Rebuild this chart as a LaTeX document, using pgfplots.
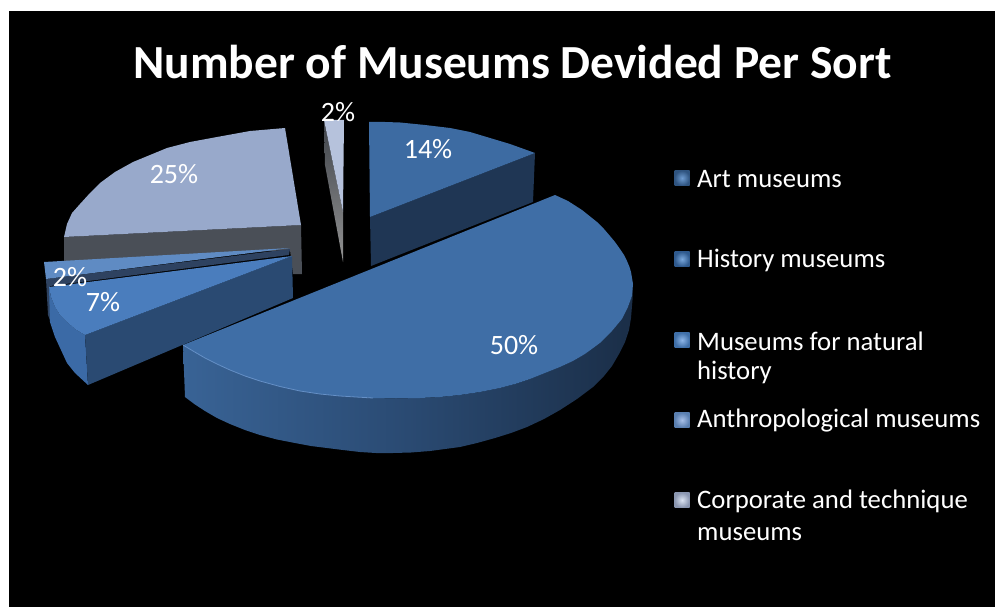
\documentclass[border=0pt]{standalone}
\usepackage{pgfplots}
\usepackage{fontspec}
\setmainfont{Carlito}
\pgfplotsset{compat=1.18}
\definecolor{artTop}{HTML}{3D6BA2}
\definecolor{artSide}{HTML}{1F3654}
\definecolor{histTop}{HTML}{3F6EA6}
\definecolor{natTop}{HTML}{4A7DBD}
\definecolor{natSide}{HTML}{2A4A72}
\definecolor{natRim}{HTML}{3B6AA6}
\definecolor{anthTop}{HTML}{5F8BC3}
\definecolor{anthSide}{HTML}{2E4260}
\definecolor{corpTop}{HTML}{98A9CB}
\definecolor{corpSide}{HTML}{4A4F57}
\definecolor{techTop}{HTML}{B6C2DC}
\definecolor{keyA1}{HTML}{6E9BD0}\definecolor{keyA2}{HTML}{2F5480}
\definecolor{keyB1}{HTML}{7AA8DC}\definecolor{keyB2}{HTML}{2F5A8E}
\definecolor{keyC1}{HTML}{8EB6E8}\definecolor{keyC2}{HTML}{3F6FA8}
\definecolor{keyD1}{HTML}{A8C0E8}\definecolor{keyD2}{HTML}{5A7FB0}
\definecolor{keyE1}{HTML}{DCE4F2}\definecolor{keyE2}{HTML}{8A96B0}
\begin{document}
\begin{tikzpicture}
\begin{axis}[
  width=995pt,height=607pt,scale only axis,
  xmin=0,xmax=995,ymin=0,ymax=607,y dir=reverse,
  axis lines=none,clip=false,
  every axis plot/.append style={draw=none},
]
% page and black panel
\addplot[fill=white] coordinates {(0,0)(995,0)(995,607)(0,607)} --cycle;
\addplot[fill=black] coordinates {(9,11)(995,11)(995,607)(9,607)} --cycle;

% 25 % slice
\addplot[fill=corpSide] coordinates {(64,237)(301,225)(302,274)(293,274)(290,250)(64,262)} --cycle;
\addplot[fill=corpTop] coordinates {(301,225)(64,237)(67,224)(72,213)(80,204)(90,193)(100,183)(115,172)(133,162)(150,155)(167,148)(190,142)(217,137)(250,131)(285,128)} --cycle;

% 2 % slice, corporate and technique
\addplot[top color=corpSide!85!black,bottom color=gray!85!white] coordinates {(324,120)(343,212)(343,262)(325,165)} --cycle;
\addplot[fill=techTop] coordinates {(324,120)(344,120)(343,212)} --cycle;

% 14 % slice
\addplot[fill=artSide] coordinates {(370,217)(535,153)(533,202)(371,266)} --cycle;
\addplot[fill=artTop] coordinates {(370,217)(369,122)(385,122)(400,122.5)(425,125)(450,128)(470,132)(490,138)(510,144)(535,153)} --cycle;

% 2 % slice, anthropological
\addplot[fill=anthSide] coordinates {(46,279)(290,249)(289,255)(50,286)(50,320)(48,315)} --cycle;
\addplot[fill=anthTop] coordinates {(44,262)(290,248)(46,279)} --cycle;

% 7 % slice
\addplot[fill=natRim] coordinates {(49,287)(51,297)(55,307)(60,315)(67,322)(75,329)(85,335)(88,385)(75,373)(67,363)(55,337)(50,322)} --cycle;
\addplot[fill=natSide] coordinates {(85,335)(292,256)(293,298)(88,385)} --cycle;
\addplot[fill=natTop] coordinates {(292,256)(49,287)(51,297)(55,307)(60,315)(67,322)(75,329)(85,335)} --cycle;

% 50 % slice
\addplot[left color=histTop!90!black,right color=artSide!85!black,middle color=natSide] coordinates {(633,284)(632,296)(628,307)(622,319)(612,331)(600,343)(585,354)(573,361)(560,367)(545,373)(530,379)(515,384)(500,388)(480,392)(460,395)(440,397)(420,398)(396,398.5)(373,398)(356,397)(340,396)(320,394)(300,391)(280,386.5)(260,381)(245,376)(230,370)(217,364)(205,358)(193,351)(183,345)(185,397)(195,404.5)(205,411)(217,418)(230,424)(245,430)(260,435)(277,439.5)(295,443)(311,446)(327,448)(343,450)(360,452)(376,453)(393,453)(411,452.5)(430,451)(445,449)(460,447)(477,443)(495,438)(511,433)(527,427)(544,419)(560,410)(577,399)(593,387)(604,376)(612,366)(619,354)(625,342)(629,330)(631,318)(632.5,300)} --cycle;
\addplot[fill=histTop] coordinates {(555,195)(568,201)(582,210)(597,222)(604,229)(610,236)(615,242)(620,249)(624,255)(627,261)(629.5,267)(631,272)(633,284)(632,296)(628,307)(622,319)(612,331)(600,343)(585,354)(573,361)(560,367)(545,373)(530,379)(515,384)(500,388)(480,392)(460,395)(440,397)(420,398)(396,398.5)(373,398)(356,397)(340,396)(320,394)(300,391)(280,386.5)(260,381)(245,376)(230,370)(217,364)(205,358)(193,351)(183,345)} --cycle;
\addplot[draw=natTop!85!white,line width=0.8pt] coordinates {(373,398)(356,397)(340,396)(320,394)(300,391)(280,386.5)(260,381)(245,376)(230,370)(217,364)(205,358)(193,351)(183,345)};

% legend keys
\addplot[inner color=keyA1,outer color=keyA2] coordinates {(674.5,170.5)(689.5,170.5)(689.5,185.5)(674.5,185.5)} --cycle;
\addplot[inner color=keyB1,outer color=keyB2] coordinates {(674.5,251.5)(689.5,251.5)(689.5,266.5)(674.5,266.5)} --cycle;
\addplot[inner color=keyC1,outer color=keyC2] coordinates {(674.5,332.5)(689.5,332.5)(689.5,347.5)(674.5,347.5)} --cycle;
\addplot[inner color=keyD1,outer color=keyD2] coordinates {(674.5,412.5)(689.5,412.5)(689.5,427.5)(674.5,427.5)} --cycle;
\addplot[inner color=keyE1,outer color=keyE2] coordinates {(674.5,492.5)(689.5,492.5)(689.5,507.5)(674.5,507.5)} --cycle;

% texts
\node[text=white,font=\bfseries\fontsize{47.5}{47.5}\selectfont] at (axis cs:512.5,62) {Number of Museums Devided Per Sort};
\begin{scope}[every node/.style={text=white,font=\fontsize{28}{28}\selectfont}]
\node at (axis cs:428,149) {14\%};
\node at (axis cs:514,345) {50\%};
\node at (axis cs:174,174) {25\%};
\node at (axis cs:103,302) {7\%};
\node at (axis cs:70,277) {2\%};
\node at (axis cs:338,112) {2\%};
\end{scope}
\begin{scope}[every node/.style={text=white,anchor=west,inner sep=0pt,font=\fontsize{26.7}{26.7}\selectfont}]
\node at (axis cs:697,179) {Art museums};
\node at (axis cs:697,260) {History museums};
\node at (axis cs:697,341) {Museums for natural};
\node at (axis cs:697,372) {history};
\node at (axis cs:697,421) {Anthropological museums};
\node at (axis cs:697,501) {Corporate and technique};
\node at (axis cs:697,534) {museums};
\end{scope}
\end{axis}
\end{tikzpicture}
\end{document}
